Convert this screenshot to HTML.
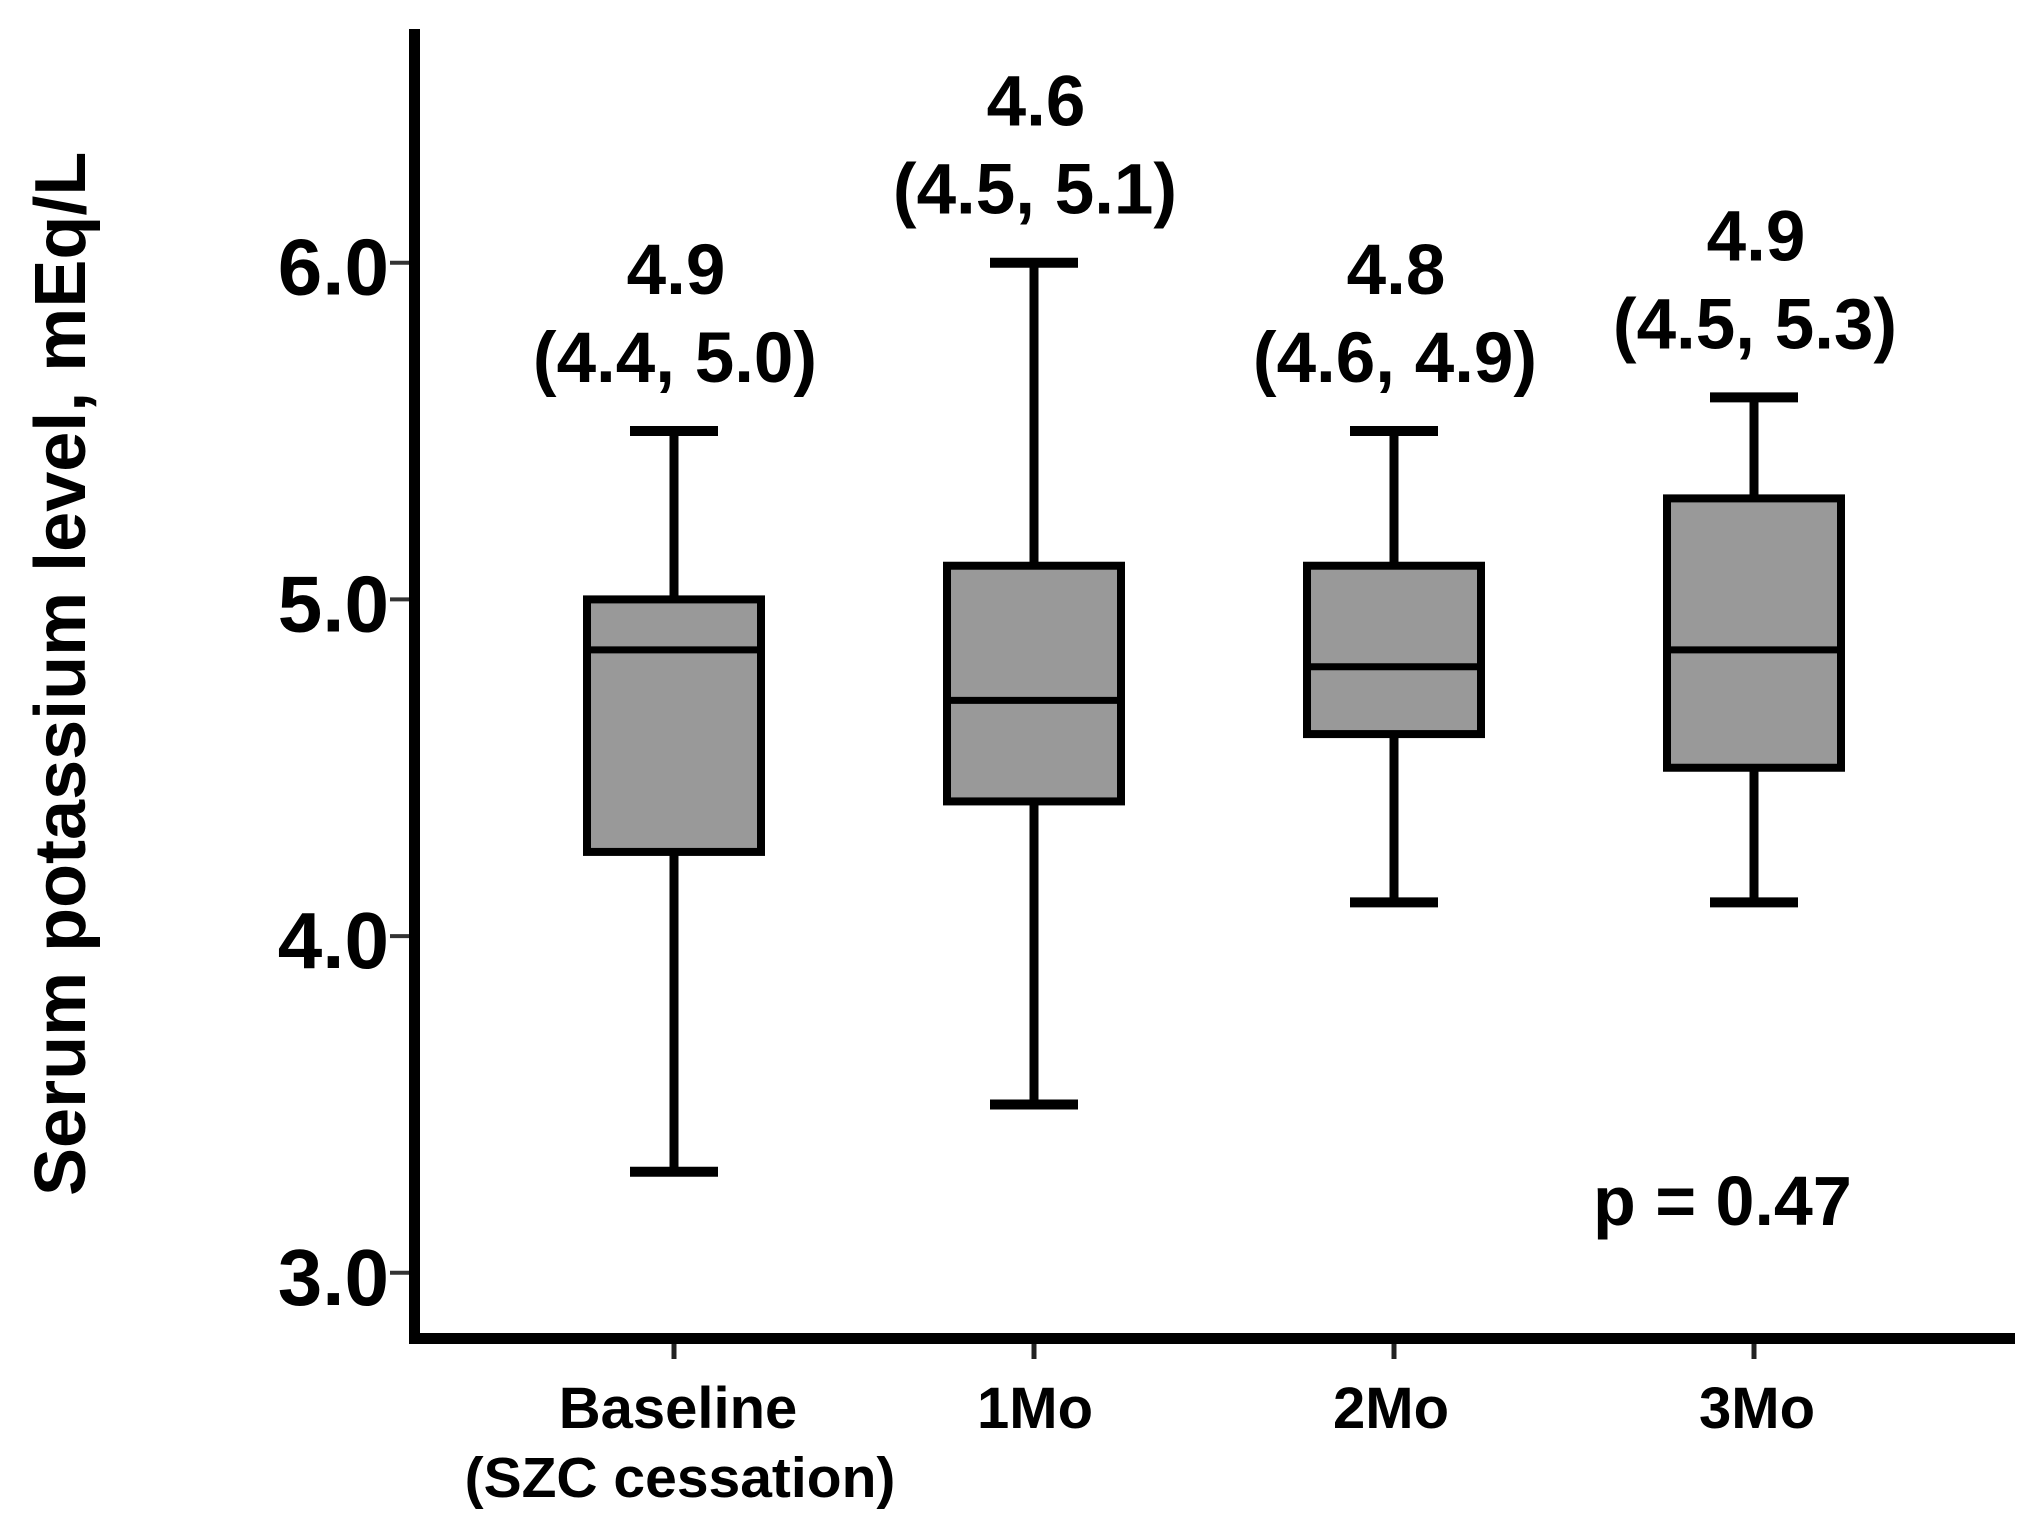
<!DOCTYPE html>
<html>
<head>
<meta charset="utf-8">
<title>Serum potassium level box plot</title>
<style>
html,body{margin:0;padding:0;background:#fff;}
svg{display:block;}
text{font-family:"Liberation Sans",Arial,sans-serif;font-weight:700;fill:#000;}
</style>
</head>
<body>
<svg id="chart" xmlns="http://www.w3.org/2000/svg" width="2040" height="1530" viewBox="0 0 2040 1530">
  <rect x="0" y="0" width="2040" height="1530" fill="#fff"/>
  <text transform="translate(85,1196) rotate(-90)" font-size="72">Serum potassium level, mEq/L</text>
  <rect x="409" y="29" width="11" height="1315" fill="#000"/>
  <rect x="414" y="1333" width="1601" height="11" fill="#000"/>
  <text x="1593" y="1225" font-size="70">p = 0.47</text>
  <g id="y-ticks"></g>
  <g id="x-ticks"></g>
  <g id="boxes"></g>
  <g id="annotations"></g>
</svg>
<script>
const categories = ['Baseline', '1Mo', '2Mo', '3Mo'];
const categorySublabels = ['(SZC cessation)', '', '', ''];
const whiskerLow = [3.3, 3.5, 4.1, 4.1];
const q1 = [4.25, 4.4, 4.6, 4.5];
const median = [4.85, 4.7, 4.8, 4.85];
const q3 = [5.0, 5.1, 5.1, 5.3];
const whiskerHigh = [5.5, 6.0, 5.5, 5.6];
const medianLabels = ['4.9', '4.6', '4.8', '4.9'];
const iqrLabels = ['(4.4, 5.0)', '(4.5, 5.1)', '(4.6, 4.9)', '(4.5, 5.3)'];
const yTickValues = [3, 4, 5, 6];
const yTickLabels = ['3.0', '4.0', '5.0', '6.0'];

const NS = 'http://www.w3.org/2000/svg';
function yScale(v) { return 262.7 + (6 - v) * 336.7; }
function xScale(i) { return 674 + 360 * i; }
function make(tag, parent, props) {
  const el = document.createElementNS(NS, tag);
  for (const k in props) el.setAttribute(k, props[k]);
  parent.appendChild(el);
  return el;
}

const yTicksG = document.getElementById('y-ticks');
yTickValues.forEach(function (v, i) {
  const tick = make('line', yTicksG, {x1: 390, x2: 409, y1: yScale(v), y2: yScale(v), stroke: '#333', 'stroke-width': 4});
  
  
  const label = make('text', yTicksG, {x: 389, y: yScale(v) + 32, 'font-size': 80, 'text-anchor': 'end'});
  label.textContent = yTickLabels[i];
  
  
});

const xTicksG = document.getElementById('x-ticks');
categories.forEach(function (c, i) {
  const tick = make('line', xTicksG, {x1: xScale(i), x2: xScale(i), y1: 1344, y2: 1359, stroke: '#222', 'stroke-width': 5});
  
  
  const label = make('text', xTicksG, {x: xScale(i) + (i === 0 ? 4 : (i === 3 ? 3 : 0)) - (i === 2 ? 3 : 0) + (i === 1 ? 1 : 0), y: 1428, 'font-size': 58, 'text-anchor': 'middle'});
  label.textContent = c;
  
  
  if (categorySublabels[i]) {
    const sub = make('text', xTicksG, {x: xScale(i) + 6, y: 1497, 'font-size': 57, 'text-anchor': 'middle'});
    sub.textContent = categorySublabels[i];
    
    
  }
});

const boxesG = document.getElementById('boxes');
categories.forEach(function (c, i) {
  const cx = xScale(i);
  const key = c.toLowerCase();
  const whisker = make('line', boxesG, {x1: cx, x2: cx, y1: yScale(whiskerHigh[i]), y2: yScale(whiskerLow[i]), stroke: '#000', 'stroke-width': 9});
  
  
  const capHigh = make('line', boxesG, {x1: cx - 44, x2: cx + 44, y1: yScale(whiskerHigh[i]), y2: yScale(whiskerHigh[i]), stroke: '#000', 'stroke-width': 10});
  
  
  const capLow = make('line', boxesG, {x1: cx - 44, x2: cx + 44, y1: yScale(whiskerLow[i]), y2: yScale(whiskerLow[i]), stroke: '#000', 'stroke-width': 10});
  
  
  const box = make('rect', boxesG, {x: cx - 87, y: yScale(q3[i]), width: 174, height: yScale(q1[i]) - yScale(q3[i]), fill: '#999', stroke: '#000', 'stroke-width': 8});
  
  
  const med = make('line', boxesG, {x1: cx - 87, x2: cx + 87, y1: yScale(median[i]), y2: yScale(median[i]), stroke: '#000', 'stroke-width': 7});
  
  
});

const annG = document.getElementById('annotations');
categories.forEach(function (c, i) {
  const key = c.toLowerCase();
  const top = yScale(whiskerHigh[i]);
  const a = make('text', annG, {x: xScale(i) + 2, y: top - 137, 'font-size': 71, 'text-anchor': 'middle'});
  a.textContent = medianLabels[i];
  
  
  const b = make('text', annG, {x: xScale(i) + 1, y: top - 49, 'font-size': 71, 'text-anchor': 'middle'});
  b.textContent = iqrLabels[i];
  
  
});
</script>
</body>
</html>
